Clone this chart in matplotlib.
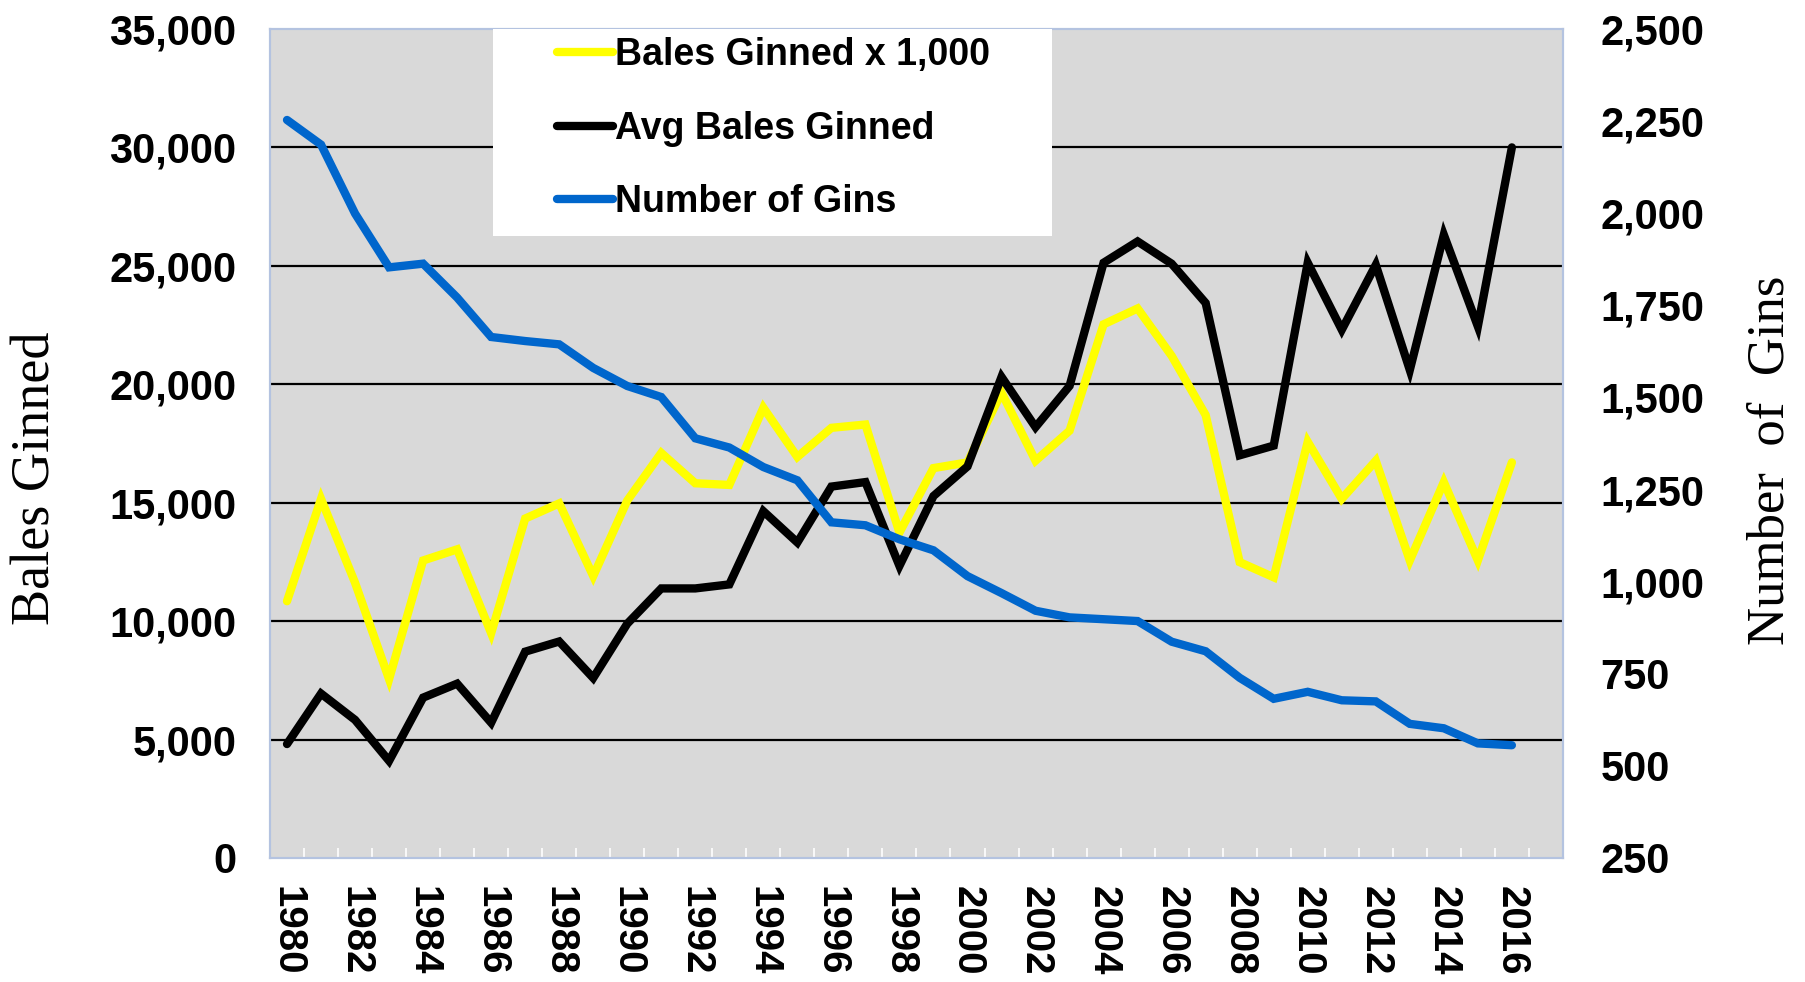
import numpy as np
import matplotlib
matplotlib.use("Agg")
import matplotlib.pyplot as plt
from matplotlib.patches import Rectangle

# category axis runs 1980-2017, data stops at 2016
years = list(range(1980, 2018))
bales_k = [10840, 15160, 11620, 7550, 12560, 13030, 9490, 14330, 14970, 11900,
           15090, 17100, 15820, 15750, 19010, 16930, 18160, 18300, 13740, 16460,
           16700, 19650, 16770, 18040, 22530, 23200, 21200, 18700, 12490, 11850,
           17570, 15160, 16770, 12560, 15870, 12560, 16700]
avg_bales = [4810, 6940, 5830, 4100, 6770, 7360, 5710, 8710, 9140, 7600,
             9890, 11380, 11380, 11550, 14640, 13320, 15680, 15870, 12330, 15280,
             16530, 20310, 18190, 19930, 25130, 26030, 25090, 23430, 17000, 17410,
             25130, 22300, 25040, 20600, 26310, 22440, 30000]
num_gins = [2253, 2186, 1999, 1853, 1863, 1771, 1664, 1653, 1644, 1580,
            1531, 1501, 1389, 1364, 1311, 1275, 1161, 1153, 1115, 1085,
            1015, 969, 921, 903, 898, 893, 837, 811, 739, 682,
            701, 678, 675, 614, 602, 561, 556]
left_ticks = list(range(0, 35001, 5000))
right_ticks = list(range(250, 2501, 250))

SANS = "Liberation Sans"
SERIF = "Liberation Serif"
border = "#B4C3E0"

fig = plt.figure(figsize=(18.06, 9.82), dpi=100)
ax = fig.add_axes([0.1495, 0.1263, 0.7159, 0.8442])
ax2 = ax.twinx()

x = np.arange(len(years))
n = len(bales_k)

ax.set_facecolor("#D9D9D9")
ax.set_xlim(-0.5, len(years) - 0.5)
ax.set_ylim(0, 35000)
ax2.set_ylim(250, 2500)

for y in left_ticks[1:-1]:
    ax.axhline(y, color="black", lw=1.6, zorder=1)

lw = 6
l1, = ax.plot(x[:n], bales_k, color="#FFFF00", lw=lw, solid_capstyle="round",
              solid_joinstyle="miter", zorder=3, label="Bales Ginned x 1,000")
l2, = ax.plot(x[:n], avg_bales, color="black", lw=lw, solid_capstyle="round",
              solid_joinstyle="miter", zorder=4, label="Avg Bales Ginned")
l3, = ax2.plot(x[:n], num_gins, color="#0066CC", lw=lw, solid_capstyle="round",
               solid_joinstyle="miter", zorder=3, label="Number of Gins")

# ticks and labels
ax.set_xticks(x[::2])
ax.set_xticklabels([str(v) for v in years[::2]], rotation=270, ha="center", va="top",
                   fontsize=29, fontweight="bold", family=SANS)
ax.set_xticks(x[:-1] + 0.5, minor=True)
ax.tick_params(axis="x", which="major", length=0, pad=20)
ax.tick_params(axis="x", which="minor", direction="in", length=7, width=1.2, color="white")

ax.set_yticks(left_ticks)
ax.set_yticklabels([f"{v:,}" for v in left_ticks], fontsize=30, fontweight="bold", family=SANS)
ax.tick_params(axis="y", length=0, pad=24)

ax2.set_yticks(right_ticks)
ax2.set_yticklabels([f"{v:,}" for v in right_ticks], fontsize=30, fontweight="bold", family=SANS)
ax2.tick_params(axis="y", length=0, pad=27)

for a in (ax, ax2):
    for s in a.spines.values():
        s.set_color(border)
        s.set_linewidth(1.5)

fig.text(0.020, 0.513, "Bales Ginned", rotation=90, ha="center", va="center",
         fontsize=39, family=SERIF)
fig.text(0.9806, 0.531, "Number  of  Gins", rotation=90, ha="center", va="center",
         fontsize=38, family=SERIF)

# white legend panel sitting on the top edge of the plot
ax2.add_patch(Rectangle((0.1725, 0.75), 0.4325, 0.25, transform=ax2.transAxes,
                        facecolor="white", edgecolor="none", zorder=5))
leg = ax2.legend(handles=[l1, l2, l3], loc="upper left", bbox_to_anchor=(0.21, 1.008),
                 frameon=False, handlelength=1.5, handletextpad=0.05, labelspacing=1.0,
                 borderaxespad=0, prop={"family": SANS, "weight": "bold", "size": 27})
leg.set_zorder(6)

fig.savefig("out.png", dpi=100)
